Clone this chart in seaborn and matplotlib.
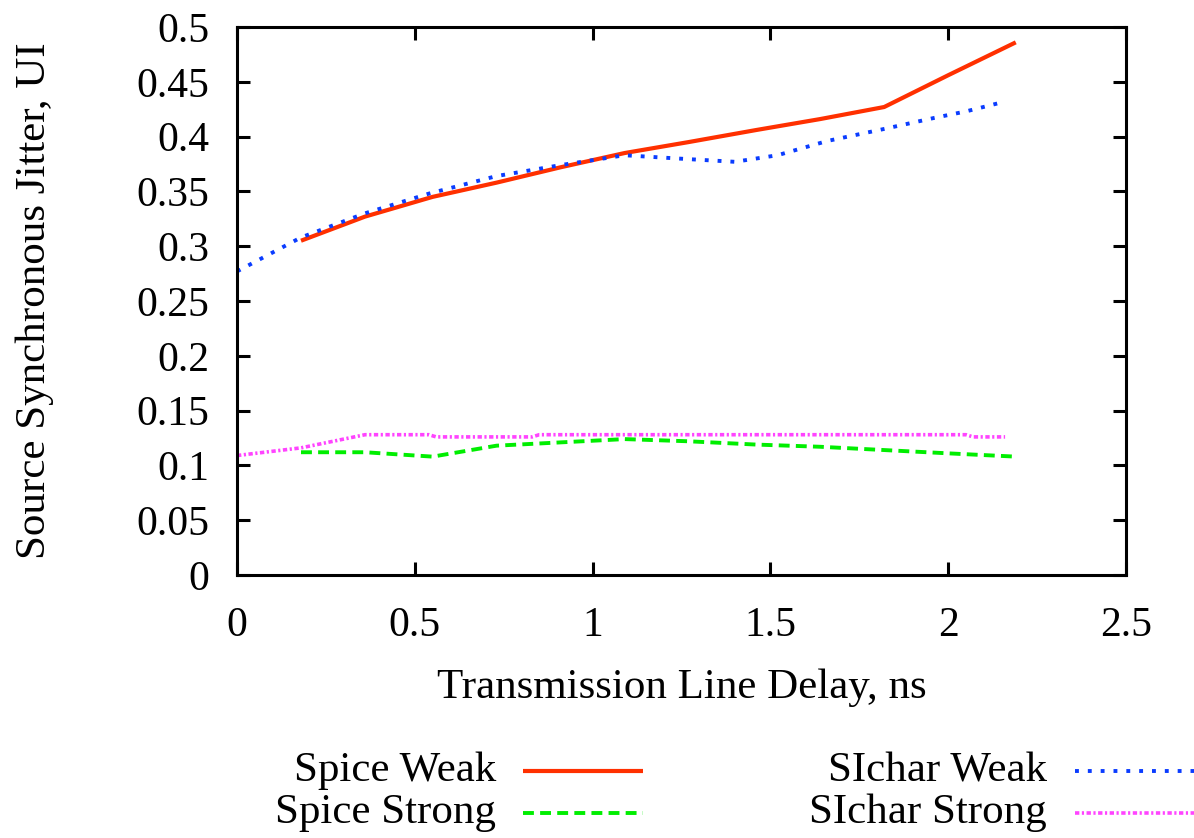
import numpy as np
import pandas as pd
import matplotlib
matplotlib.use("Agg")
import matplotlib.pyplot as plt
from matplotlib.lines import Line2D
from matplotlib.ticker import FuncFormatter, MultipleLocator
import seaborn as sns

# Jitter versus transmission line delay
spice_delay = [0.18, 0.36, 0.55, 0.73, 0.91, 1.09, 1.27, 1.46, 1.64, 1.82, 2.00, 2.19]
spice_weak = [0.305, 0.327, 0.345, 0.358, 0.372, 0.385, 0.395, 0.406, 0.416, 0.427, 0.456, 0.486]
spice_strong = [0.112, 0.112, 0.108, 0.118, 0.121, 0.124, 0.122, 0.119, 0.117, 0.114, 0.111, 0.108]

sichar_weak_delay = [0.00, 0.18, 0.36, 0.54, 0.73, 0.91, 1.09, 1.24, 1.40, 1.52, 1.66, 1.82, 1.96, 2.05, 2.16]
sichar_weak = [0.277, 0.308, 0.330, 0.348, 0.364, 0.374, 0.383, 0.380, 0.377, 0.383, 0.396, 0.407, 0.417, 0.423, 0.432]

sichar_strong_delay = [0.00, 0.18, 0.36, 0.54, 0.56, 0.83, 0.85, 2.05, 2.07, 2.16]
sichar_strong = [0.109, 0.116, 0.128, 0.128, 0.126, 0.126, 0.128, 0.128, 0.126, 0.126]

x_ticks = [0, 0.5, 1, 1.5, 2, 2.5]
y_tick_step = 0.05

series = [
    ("Spice Weak", spice_delay, spice_weak,
     dict(color="#ff3000", linewidth=3.0, linestyle="-")),
    ("Spice Strong", spice_delay, spice_strong,
     dict(color="#00ee00", linewidth=2.8, linestyle=(0, (2.8, 1.6)))),
    ("SIchar Weak", sichar_weak_delay, sichar_weak,
     dict(color="#0a3cff", linewidth=2.8, linestyle=(0, (1.0, 2.3)))),
    ("SIchar Strong", sichar_strong_delay, sichar_strong,
     dict(color="#ff44ff", linewidth=2.6, linestyle=(0, (1.2, 0.7, 0.6, 0.7)))),
]

sns.set_style("ticks")
plt.rcParams["font.family"] = ["Liberation Serif", "DejaVu Serif"]
plt.rcParams["lines.dash_capstyle"] = "butt"
plt.rcParams["lines.solid_capstyle"] = "butt"
for key in ["text.color", "axes.labelcolor", "xtick.color", "ytick.color", "axes.edgecolor"]:
    plt.rcParams[key] = "black"

W, H = 1194, 838
fig = plt.figure(figsize=(W / 100, H / 100), dpi=100)
ax = fig.add_axes([237 / W, 1 - 575 / H, (1126 - 237) / W, (575 - 27) / H])

for name, xs, ys, style in series:
    df = pd.DataFrame({"delay": xs, "jitter": ys})
    sns.lineplot(data=df, x="delay", y="jitter", ax=ax, estimator=None,
                 sort=False, legend=False, **style)

ax.set_xlim(0, 2.5)
ax.set_ylim(0, 0.5)
ax.set_xticks(x_ticks)
ax.yaxis.set_major_locator(MultipleLocator(y_tick_step))
fmt = FuncFormatter(lambda v, p: "%g" % round(v, 3))
ax.xaxis.set_major_formatter(fmt)
ax.yaxis.set_major_formatter(fmt)

for side in ["left", "right", "top", "bottom"]:
    ax.spines[side].set_visible(True)
    ax.spines[side].set_linewidth(2.2)
    ax.spines[side].set_color("black")
ax.tick_params(axis="both", which="major", direction="in", length=9.5, width=2.2,
               top=True, right=True, color="black", labelcolor="black")
ax.tick_params(axis="y", labelsize=30, pad=20)
ax.tick_params(axis="x", labelsize=30, pad=23)

ax.set_xlabel("Transmission Line Delay, ns", fontsize=31)
ax.set_ylabel("Source Synchronous Jitter, UI", fontsize=31)
ax.xaxis.set_label_coords(0.5, (575 - 688) / 548)
ax.xaxis.label.set_va("center")
ax.yaxis.set_label_coords((35 - 237) / 889, 0.5)
ax.yaxis.label.set_va("center")

# Key below the plot: right-aligned names followed by line samples
key_layout = [
    (496, 523, 643, 771),
    (496, 523, 643, 813),
    (1047, 1075, 1196, 771),
    (1047, 1075, 1196, 813),
]
for (name, _, _, style), (tx, lx0, lx1, ly) in zip(series, key_layout):
    fig.text(tx / W, 1 - ly / H, name, ha="right", va="center", fontsize=31)
    fig.add_artist(Line2D([lx0 / W, lx1 / W], [1 - ly / H, 1 - ly / H],
                          transform=fig.transFigure, **style))

fig.savefig("out.png", dpi=100, facecolor="white")
